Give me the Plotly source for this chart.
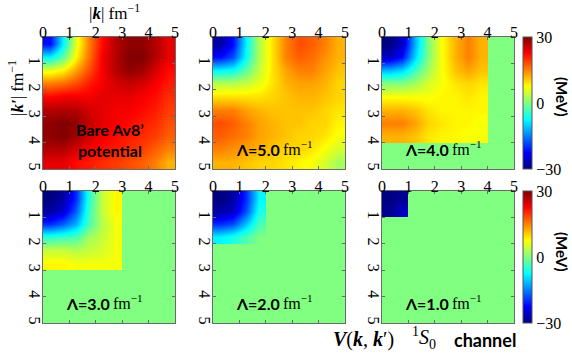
import plotly.graph_objects as go

# k-grid cell centres (fm^-1), 0.5 fm^-1 cells
K = [0.25, 0.75, 1.25, 1.75, 2.25, 2.75, 3.25, 3.75, 4.25, 4.75]
AXIS_TICKS = [0, 1, 2, 3, 4, 5]
Y_TICKS = [1, 2, 3, 4, 5]

# V(k,k') in MeV
V_bare = [
    [-22, -8, 6, 15, 22, 27, 29, 29, 27, 24],
    [-8, -2, 8, 16, 23, 27, 30, 30, 27, 24],
    [6, 8, 13, 18, 23, 27, 29, 28, 25, 22],
    [15, 16, 18, 21, 23, 25, 26, 25, 23, 21],
    [22, 23, 23, 23, 24, 24, 24, 23, 22, 20],
    [27, 27, 27, 25, 24, 23, 23, 22, 21, 19],
    [29, 30, 29, 26, 24, 23, 22, 21, 20, 18],
    [29, 30, 28, 25, 23, 22, 21, 20, 19, 17],
    [27, 27, 25, 23, 22, 21, 20, 19, 17, 15],
    [24, 24, 22, 21, 20, 19, 18, 17, 15, 12],
]
V_L5 = [
    [-28, -22, -8, 3, 9, 15, 18, 17, 15, 12],
    [-22, -18, -7, 3, 9, 15, 17, 16, 14, 12],
    [-8, -7, -2, 4, 9, 13, 15, 15, 13, 11],
    [3, 3, 4, 6, 9, 12, 13, 13, 12, 10],
    [9, 9, 9, 9, 10, 11, 12, 12, 11, 10],
    [15, 15, 13, 12, 11, 11, 11, 11, 10, 9],
    [18, 17, 15, 13, 12, 11, 11, 10, 10, 8],
    [17, 16, 15, 13, 12, 11, 10, 10, 9, 7],
    [15, 14, 13, 12, 11, 10, 10, 9, 7, 5],
    [12, 12, 11, 10, 10, 9, 8, 7, 5, 2],
]
V_L4 = [
    [-30, -26, -12, 0, 7, 12, 15, 12],
    [-26, -22, -10, 0, 7, 12, 15, 12],
    [-12, -10, -4, 2, 7, 11, 13, 11],
    [0, 0, 2, 5, 7, 9, 10, 9],
    [7, 7, 7, 7, 8, 8, 9, 8],
    [12, 12, 11, 9, 8, 8, 8, 8],
    [15, 15, 13, 10, 9, 8, 8, 7],
    [12, 12, 11, 9, 8, 8, 7, 7],
]
V_L3 = [
    [-30, -28, -20, -5, 4, 8],
    [-28, -25, -17, -4, 4, 8],
    [-20, -17, -12, -3, 3, 7],
    [-5, -4, -3, 2, 4, 7],
    [4, 4, 3, 4, 5, 7],
    [8, 8, 7, 7, 7, 7],
]
V_L2 = [
    [-30, -28, -20, -8],
    [-28, -26, -18, -6],
    [-20, -18, -11, -3],
    [-8, -6, -3, 0],
]
V_L1 = [
    [-30, -29],
    [-29, -26],
]

panels = [
    (V_bare, None), (V_L5, "5.0"), (V_L4, "4.0"),
    (V_L3, "3.0"), (V_L2, "2.0"), (V_L1, "1.0"),
]

W, H = 572, 353
COL_X = [43, 213, 382]
ROW_Y = [37, 191]
PW, PH = 132, 132

JET = [[0, "rgb(0,0,128)"], [0.125, "rgb(0,0,255)"], [0.375, "rgb(0,255,255)"],
       [0.625, "rgb(255,255,0)"], [0.875, "rgb(255,0,0)"], [1, "rgb(128,0,0)"]]
ZERO_GREEN = "rgb(128,255,128)"
SERIF = "Liberation Serif"
SANS = "Lato"

fig = go.Figure()
layout = dict(width=W, height=H, margin=dict(l=0, r=0, t=0, b=0, autoexpand=False),
              paper_bgcolor="white", plot_bgcolor=ZERO_GREEN, showlegend=False)
annotations = []


def paper_text(px, py, text, font, size, angle=0, xanchor="center"):
    annotations.append(dict(xref="paper", yref="paper", x=px / W, y=1 - py / H,
                            xanchor=xanchor, yanchor="middle", showarrow=False,
                            textangle=angle, text=text,
                            font=dict(family=font, size=size, color="black")))


for i, (V, lam) in enumerate(panels):
    r, c = divmod(i, 3)
    n = len(V)
    x0 = COL_X[c]
    y0 = ROW_Y[r]
    xd = [x0 / W, (x0 + PW) / W]
    yd = [1 - (y0 + PH) / H, 1 - y0 / H]
    ax = "" if i == 0 else str(i + 1)
    show = (c == 2)
    cb = None
    if show:
        cb = dict(x=523 / W, xanchor="left", thickness=9, thicknessmode="pixels",
                  len=PH / H, lenmode="fraction", y=(yd[0] + yd[1]) / 2, yanchor="middle",
                  tickvals=[-30, 0, 30], ticktext=["\u221230", "0", "30"],
                  ticks="", outlinewidth=1, outlinecolor="#555",
                  tickfont=dict(family=SERIF, size=16, color="black"), ypad=0, xpad=0)
    fig.add_trace(go.Heatmap(
        z=V, x=K[:n], y=K[:n], colorscale=JET, zmin=-30, zmax=30,
        zsmooth="best", showscale=show, colorbar=cb,
        xaxis="x" + ax, yaxis="y" + ax, hoverinfo="skip"))
    axstyle = dict(showgrid=False, zeroline=False, showline=True, linecolor="#6a6a6a",
                   linewidth=1, mirror="ticks", ticks="inside", ticklen=3,
                   tickcolor="#6a6a6a", tickfont=dict(family=SERIF, size=16, color="black"))
    layout["xaxis" + ax] = dict(domain=xd, range=[0, 5], side="top", tickvals=AXIS_TICKS,
                                anchor="y" + ax, ticklabelstandoff=-8, **axstyle)
    layout["yaxis" + ax] = dict(domain=yd, range=[5, 0], tickvals=Y_TICKS, tickangle=90,
                                anchor="x" + ax, ticklabelstandoff=-6, **axstyle)
    if lam is not None:
        annotations.append(dict(
            xref="x" + ax, yref="y" + ax, x=2.62, y=4.25, showarrow=False,
            xanchor="right", yanchor="middle",
            text=f"<b>\u039b={lam}</b>", font=dict(family=SANS, size=16, color="black")))
        annotations.append(dict(
            xref="x" + ax, yref="y" + ax, x=2.58, y=4.2, showarrow=False,
            xanchor="left", yanchor="middle",
            text="fm<sup>\u22121</sup>", font=dict(family=SERIF, size=16, color="black")))

annotations.append(dict(xref="x", yref="y", x=2.55, y=3.5, showarrow=False,
                        xanchor="center", yanchor="middle",
                        text="<b>Bare Av8\u2019</b>", font=dict(family=SANS, size=16, color="black")))
annotations.append(dict(xref="x", yref="y", x=2.55, y=4.3, showarrow=False,
                        xanchor="center", yanchor="middle",
                        text="<b>potential</b>", font=dict(family=SANS, size=16, color="black")))

# axis titles
paper_text(114, 12, "|<b><i>k</i></b>| fm<sup>\u22121</sup>", SERIF, 17)
paper_text(16, 88, "|<b><i>k\u2032</i></b>| fm<sup>\u22121</sup>", SERIF, 17, angle=-90)
# colorbar titles
for yc in [97, 252]:
    paper_text(562, yc, "<b>(MeV)</b>", SANS, 15, angle=90)
# bottom caption
paper_text(331, 339, "<b><i>V</i></b>(<b><i>k</i></b>, <b><i>k</i></b>\u2032)", SERIF, 20, xanchor="left")
paper_text(410, 338, "<sup>1</sup><i>S</i><sub>0</sub>", SERIF, 20, xanchor="left")
paper_text(452, 340, "<b>channel</b>", SANS, 18, xanchor="left")

layout["annotations"] = annotations
fig.update_layout(**layout)
fig.write_html("out.html", config={"displayModeBar": False},
               post_script="document.body.style.margin='0';document.body.style.overflow='hidden';")
